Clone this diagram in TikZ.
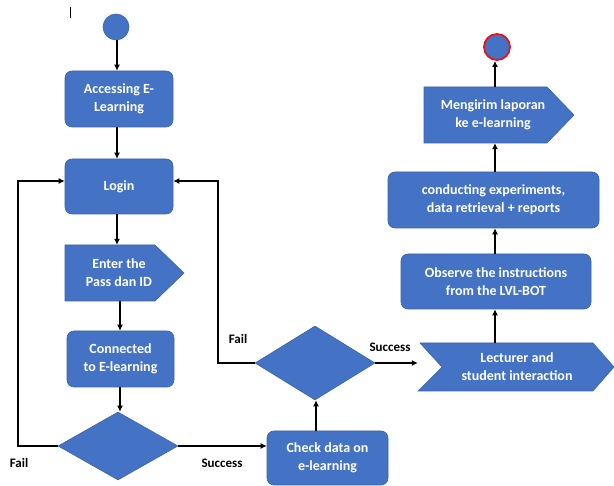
\documentclass[tikz,border=0pt]{standalone}
\usepackage{fontspec}
\setmainfont{Carlito}
\usetikzlibrary{shapes.geometric,arrows.meta}
\definecolor{boxblue}{HTML}{4472C4}
\definecolor{edgeblue}{HTML}{3A63AD}
\definecolor{endred}{HTML}{E8141B}
\begin{document}
\begin{tikzpicture}[x=1pt,y=-1pt,
  box/.style={draw=edgeblue,line width=0.6pt,fill=boxblue,rounded corners=7pt,inner sep=0pt,align=center,text=white,font=\fontsize{14}{18}\selectfont\bfseries},
  shapebox/.style={draw=edgeblue,line width=0.6pt,fill=boxblue},
  lbl/.style={inner sep=0pt,align=center,text=white,font=\fontsize{14}{18}\selectfont\bfseries},
  dec/.style={diamond,draw=edgeblue,line width=0.6pt,fill=boxblue,inner sep=0pt},
  flow/.style={line width=1.6pt,-{Latex[length=6pt,width=6pt]}},
  side/.style={inner sep=0pt,font=\fontsize{13}{15}\selectfont\bfseries}]
\useasboundingbox (0,0) rectangle (614,486);
% cursor artefact
\draw[line width=0.8pt] (70,7) -- (70,18);
% left column
\node[circle,fill=boxblue,draw=edgeblue,line width=0.6pt,minimum size=26pt,inner sep=0pt] (start) at (116,27) {};
\node[box,minimum width=108pt,minimum height=56pt] (access) at (119,99) {Accessing E-\\Learning};
\node[box,minimum width=108pt,minimum height=55pt] (login) at (119,186.5) {Login};
\draw[shapebox] (65,245) -- (155,245) -- (184,273) -- (155,301) -- (65,301) -- cycle;
\node[lbl,minimum width=108pt,minimum height=56pt] (enter) at (119,273) {Enter the\\Pass dan ID};
\node[box,minimum width=107pt,minimum height=56pt] (conn) at (120.5,359) {Connected\\to E-learning};
\node[dec,minimum width=120pt,minimum height=68pt] (d1) at (118,446) {};
\node[box,minimum width=121pt,minimum height=54pt] (check) at (327.5,458) {Check data on\\e-learning};
\node[dec,minimum width=120pt,minimum height=74pt] (d2) at (315,363) {};
% right column
\draw[shapebox] (420,343) -- (593,343) -- (614,367) -- (593,391) -- (418,391) -- (442,367) -- cycle;
\node[lbl,minimum width=150pt,minimum height=48pt] (lect) at (517,367) {Lecturer and\\student interaction};
\node[box,minimum width=190pt,minimum height=55pt] (obs) at (496,281.5) {Observe the instructions\\from the LVL-BOT};
\node[box,minimum width=211pt,minimum height=56pt] (cond) at (493.5,200) {conducting experiments,\\data retrieval + reports};
\draw[shapebox] (424,87) -- (547,87) -- (574,115) -- (547,143) -- (424,143) -- cycle;
\node[lbl,minimum width=123pt,minimum height=56pt] (send) at (493,115) {Mengirim laporan\\ke e-learning};
\node[circle,fill=boxblue,draw=endred,line width=1.8pt,minimum size=26pt,inner sep=0pt] (end) at (497,47) {};
% labels
\node[side] (lf1) at (19,463) {Fail};
\node[side] (ls1) at (222,463) {Success};
\node[side] (lf2) at (238,339) {Fail};
\node[side] (ls2) at (390,347) {Success};
% connectors
\coordinate (a1) at (117,0);
\draw[flow] (start.south -| a1) -- (access.north -| a1);
\draw[flow] (access.south -| a1) -- (login.north -| a1);
\draw[flow] (login.south -| a1) -- (enter.north -| a1);
\coordinate (a2) at (120,0);
\draw[flow] (enter.south -| a2) -- (conn.north -| a2);
\draw[flow] (conn.south -| a2) -- (d1.north -| a2);
\coordinate (fl1) at (18,446);
\coordinate (fl2) at (18,181);
\draw[flow] (d1.west) -- (fl1) -- (fl2) -- (login.west |- fl2);
\draw[flow] (d1.east) -- (check.west |- d1.east);
\coordinate (a3) at (316,0);
\draw[flow] (check.north -| a3) -- (d2.south -| a3);
\coordinate (fr1) at (218,363);
\coordinate (fr2) at (218,181);
\draw[flow] (d2.west) -- (fr1) -- (fr2) -- (login.east |- fr2);
\draw[flow] (d2.east) -- ([xshift=-24pt]lect.west |- d2.east);
\coordinate (a4) at (495,0);
\draw[flow] (lect.north -| a4) -- (obs.south -| a4);
\draw[flow] (obs.north -| a4) -- (cond.south -| a4);
\draw[flow] (cond.north -| a4) -- (send.south -| a4);
\draw[flow] (send.north -| a4) -- (end.south -| a4);
\end{tikzpicture}
\end{document}
